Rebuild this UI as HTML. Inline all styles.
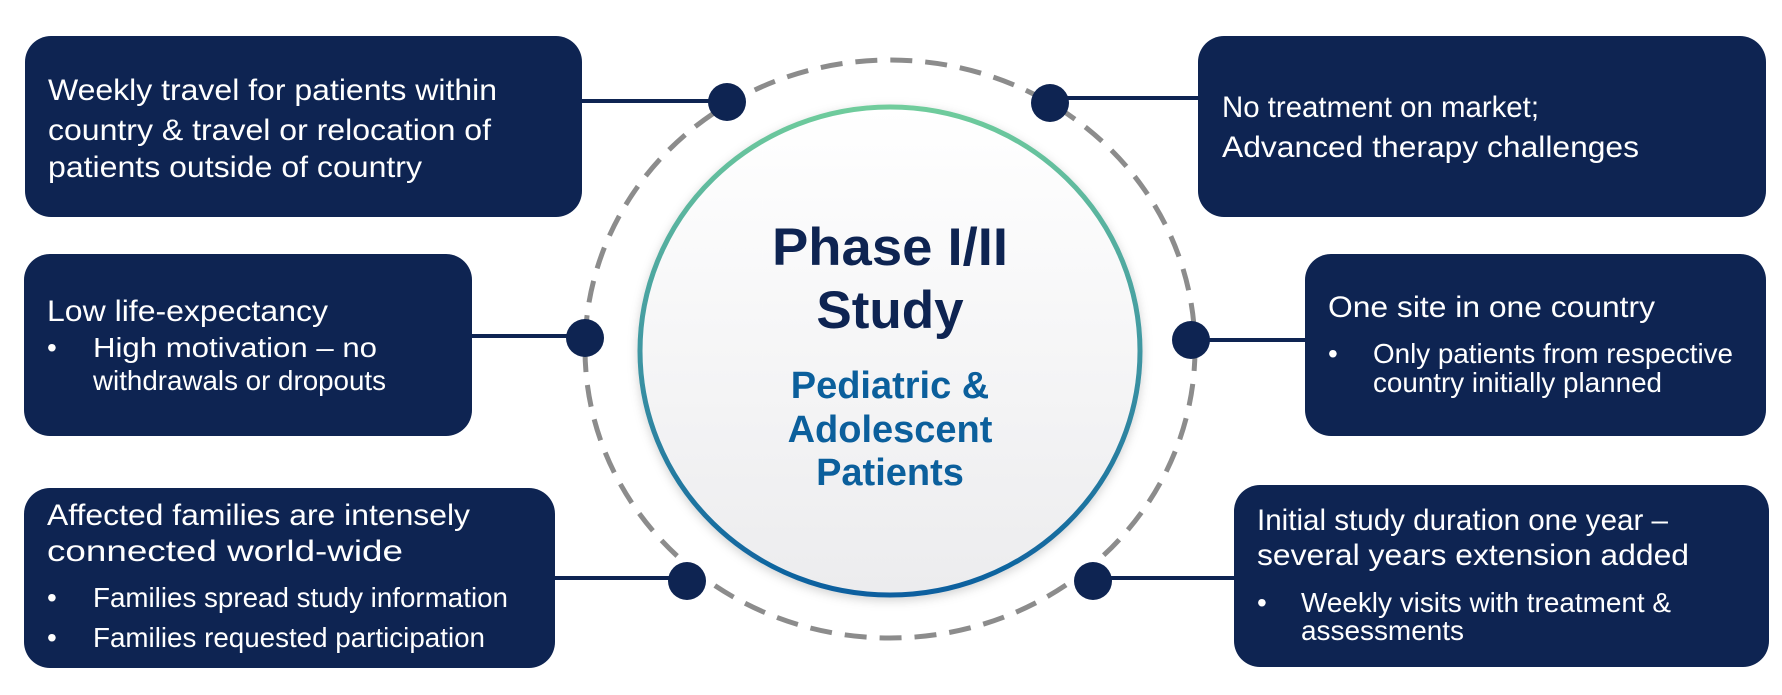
<!DOCTYPE html>
<html><head><meta charset="utf-8"><style>
html,body{margin:0;padding:0;background:#fff;}
svg{display:block;}
text{font-family:"Liberation Sans",Arial,sans-serif;}
.b{fill:#ffffff;font-size:30px;}
.s{fill:#ffffff;font-size:28px;}
</style></head><body>
<svg width="1782" height="695" viewBox="0 0 1782 695" xmlns="http://www.w3.org/2000/svg">
<defs>
<linearGradient id="ring" x1="0" y1="0" x2="0" y2="1">
<stop offset="0" stop-color="#6fcc9c"/>
<stop offset="0.5" stop-color="#3f97a2"/>
<stop offset="1" stop-color="#0a5f9f"/>
</linearGradient>
<linearGradient id="fill" x1="0" y1="0" x2="0" y2="1">
<stop offset="0" stop-color="#ffffff"/>
<stop offset="1" stop-color="#ececee"/>
</linearGradient>
<filter id="sh" x="-20%" y="-20%" width="140%" height="140%"><feDropShadow dx="0" dy="3" stdDeviation="5" flood-color="#000" flood-opacity="0.18"/></filter>
</defs>

<ellipse cx="890" cy="349" rx="305" ry="289" fill="none" stroke="#8c8c8c" stroke-width="5" stroke-dasharray="22 13"/>

<g stroke="#0e2452" stroke-width="4">
<line x1="580" y1="101" x2="727" y2="101"/>
<line x1="470" y1="336" x2="585" y2="336"/>
<line x1="553" y1="578" x2="687" y2="578"/>
<line x1="1050" y1="98" x2="1200" y2="98"/>
<line x1="1191" y1="340" x2="1307" y2="340"/>
<line x1="1093" y1="578" x2="1236" y2="578"/>
</g>

<ellipse cx="890" cy="351" rx="250" ry="244" fill="url(#fill)" stroke="url(#ring)" stroke-width="5" filter="url(#sh)"/>

<g fill="#0e2452">
<circle cx="727" cy="102" r="19"/>
<circle cx="585" cy="338" r="19"/>
<circle cx="687" cy="581" r="19"/>
<circle cx="1050" cy="103" r="19"/>
<circle cx="1191" cy="340" r="19"/>
<circle cx="1093" cy="581" r="19"/>
</g>

<g fill="#0e2452">
<rect x="25" y="36" width="557" height="181" rx="26"/>
<rect x="24" y="254" width="448" height="182" rx="26"/>
<rect x="24" y="488" width="531" height="180" rx="26"/>
<rect x="1198" y="36" width="568" height="181" rx="26"/>
<rect x="1305" y="254" width="461" height="182" rx="26"/>
<rect x="1234" y="485" width="535" height="182" rx="26"/>
</g>

<g text-anchor="middle" font-weight="bold">
<text x="890" y="265" font-size="53" fill="#0e2452" textLength="236" lengthAdjust="spacingAndGlyphs">Phase I/II</text>
<text x="890" y="328" font-size="53" fill="#0e2452">Study</text>
<text x="890" y="398" font-size="38" fill="#0b5f9c">Pediatric &amp;</text>
<text x="890" y="442" font-size="38" fill="#0b5f9c">Adolescent</text>
<text x="890" y="485" font-size="38" fill="#0b5f9c">Patients</text>
</g>

<g lengthAdjust="spacingAndGlyphs">
<text class="b" x="48" y="100" textLength="449" lengthAdjust="spacingAndGlyphs">Weekly travel for patients within</text>
<text class="b" x="48" y="140" textLength="443" lengthAdjust="spacingAndGlyphs">country &amp; travel or relocation of</text>
<text class="b" x="48" y="177" textLength="374" lengthAdjust="spacingAndGlyphs">patients outside of country</text>

<text class="b" x="47" y="321" textLength="281" lengthAdjust="spacingAndGlyphs">Low life-expectancy</text>
<text class="s" x="47" y="357">•</text><text class="s" x="93" y="357" textLength="284" lengthAdjust="spacingAndGlyphs">High motivation – no</text>
<text class="s" x="93" y="390" textLength="293" lengthAdjust="spacingAndGlyphs">withdrawals or dropouts</text>

<text class="b" x="47" y="525" textLength="423" lengthAdjust="spacingAndGlyphs">Affected families are intensely</text>
<text class="b" x="47" y="561" textLength="356" lengthAdjust="spacingAndGlyphs">connected world-wide</text>
<text class="s" x="47" y="607">•</text><text class="s" x="93" y="607" textLength="415" lengthAdjust="spacingAndGlyphs">Families spread study information</text>
<text class="s" x="47" y="647">•</text><text class="s" x="93" y="647" textLength="392" lengthAdjust="spacingAndGlyphs">Families requested participation</text>

<text class="b" x="1222" y="117" textLength="317" lengthAdjust="spacingAndGlyphs">No treatment on market;</text>
<text class="b" x="1222" y="157" textLength="417" lengthAdjust="spacingAndGlyphs">Advanced therapy challenges</text>

<text class="b" x="1328" y="317" textLength="327" lengthAdjust="spacingAndGlyphs">One site in one country</text>
<text class="s" x="1328" y="363">•</text><text class="s" x="1373" y="363" textLength="360" lengthAdjust="spacingAndGlyphs">Only patients from respective</text>
<text class="s" x="1373" y="392" textLength="289" lengthAdjust="spacingAndGlyphs">country initially planned</text>

<text class="b" x="1257" y="530" textLength="411" lengthAdjust="spacingAndGlyphs">Initial study duration one year –</text>
<text class="b" x="1257" y="565" textLength="432" lengthAdjust="spacingAndGlyphs">several years extension added</text>
<text class="s" x="1257" y="612">•</text><text class="s" x="1301" y="612" textLength="370" lengthAdjust="spacingAndGlyphs">Weekly visits with treatment &amp;</text>
<text class="s" x="1301" y="640" textLength="163" lengthAdjust="spacingAndGlyphs">assessments</text>
</g>
</svg>
</body></html>
